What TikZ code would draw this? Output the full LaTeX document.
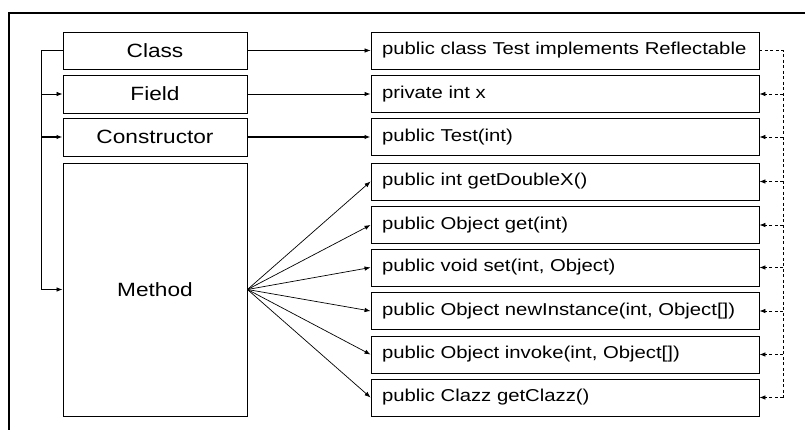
\documentclass[tikz,border=0pt]{standalone}
\usepackage{fontspec}
\setmainfont{Liberation Sans}[FakeStretch=1.18]
\usetikzlibrary{arrows.meta}
\newcommand\Ligne[1]{\makebox[366pt][l]{#1}}
\begin{document}
\begin{tikzpicture}[x=1pt,y=-1pt]
		% Styles (MODIFIABLES)
		\tikzstyle{cadre}=[line width=1.4pt]
		\tikzstyle{boite}=[draw,line width=0.9pt,inner sep=0pt,minimum width=184pt,font=\fontsize{19.2}{22}\selectfont]
		\tikzstyle{membre}=[draw,line width=0.9pt,inner ysep=0pt,inner xsep=11pt,minimum height=37pt,font=\fontsize{17.2}{20}\selectfont]
		\tikzstyle{fleche}=[-{Latex[length=6pt,width=4.5pt]},line width=0.7pt]
		\tikzstyle{lien}=[dash pattern=on 3pt off 2.5pt,line width=0.7pt]
		% Dimensions (MODIFIABLES)
		\def\ColG{155}
		\def\ColD{565}
		\def\RailG{41}
		\def\RailD{783}
		\useasboundingbox (0,0) rectangle (805,430);
		\draw[cadre] (9,13) rectangle (809,434);
		% Noeuds de gauche
		\node[boite,minimum height=37pt] (class) at (\ColG,50.5) {Class};
		\node[boite,minimum height=38pt] (field) at (\ColG,94) {Field};
		\node[boite,minimum height=38pt] (constructor) at (\ColG,137) {Constructor};
		\node[boite,minimum height=253pt] (method) at (\ColG,289.5) {Method};
		% Noeuds de droite
		\node[membre] (m1) at (\ColD,50.5) {\Ligne{public class Test implements Reflectable}};
		\node[membre] (m2) at (\ColD,94) {\Ligne{private int x}};
		\node[membre] (m3) at (\ColD,137) {\Ligne{public Test(int)}};
		\node[membre] (m4) at (\ColD,181.5) {\Ligne{public int getDoubleX()}};
		\node[membre] (m5) at (\ColD,225) {\Ligne{public Object get(int)}};
		\node[membre] (m6) at (\ColD,267.5) {\Ligne{public void set(int, Object)}};
		\node[membre] (m7) at (\ColD,311) {\Ligne{public Object newInstance(int, Object[])}};
		\node[membre] (m8) at (\ColD,354.5) {\Ligne{public Object invoke(int, Object[])}};
		\node[membre] (m9) at (\ColD,397.5) {\Ligne{public Clazz getClazz()}};
		% Rails
		\coordinate (railg) at (\RailG,0);
		\coordinate (raild) at (\RailD,0);
		% Arcs (MODIFIABLES : Styles)
		\draw[fleche,line width=0.6pt] (class.east)--(m1.west);
		\draw[fleche,line width=0.9pt] (field.east)--(m2.west);
		\draw[fleche,line width=1.4pt] (constructor.east)--(m3.west);
		\foreach \i in {4,...,9}
			\draw[fleche] (method.east)--(m\i.west);
		% Rail de gauche
		\draw[fleche] (class.west)--(railg |- class.west)--(railg |- method.west)--(method.west);
		\draw[fleche] (railg |- field.west)--(field.west);
		\draw[fleche,line width=1.2pt] (railg |- constructor.west)--(constructor.west);
		% Rail de droite
		\draw[lien] (m1.east)--(raild |- m1.east)--(raild |- m9.east);
		\foreach \i in {2,...,9}
			\draw[lien,fleche] (raild |- m\i.east)--(m\i.east);
\end{tikzpicture}
\end{document}
